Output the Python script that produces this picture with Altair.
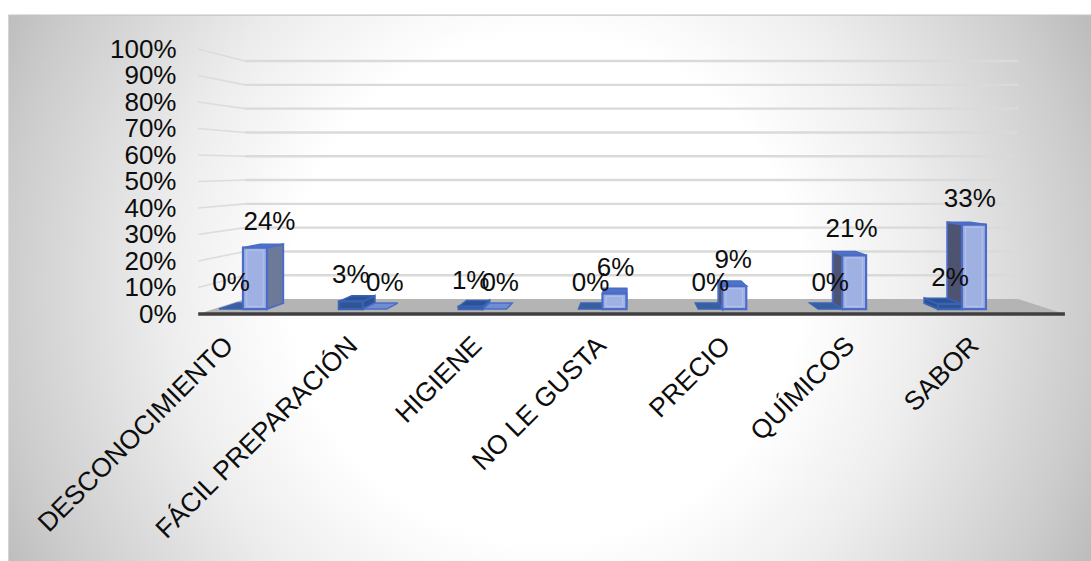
import altair as alt
import pandas as pd

categories = ["DESCONOCIMIENTO", "FÁCIL PREPARACIÓN", "HIGIENE", "NO LE GUSTA", "PRECIO", "QUÍMICOS", "SABOR"]
series_a = [0, 3, 1, 0, 0, 0, 2]
series_b = [24, 0, 0, 6, 9, 21, 33]
y_ticks = list(range(0, 101, 10))

# Scale domains: x in category slots, y in percent on the front plane of the floor.
X_DOMAIN = [-1.84, 6.94]
Y_DOMAIN = [-93.2, 118.5]
CENTER = 3.24          # vanishing column of the perspective
SHRINK_X = 0.108       # narrowing of the x extent from front to back plane
SHRINK_Y = 0.102       # narrowing of the y extent from front to back plane
FLOOR_RISE = 5.66      # rise of the floor line at the back plane, percent units
BAR_W = 0.2            # bar width in category slots
D_FRONT, D_BACK = 0.33, 0.73   # bar depth range (0 = front plane, 1 = back wall)
FLOOR_L, FLOOR_R = -0.245, 6.73
PANEL_L, PANEL_T = -1.773, 112.8
BEVEL_X, BEVEL_Y = 0.03, 1.0   # inset of the lighter frame inside a bar's front face


def proj(c, v, d):
    return CENTER + (c - CENTER) * (1 - SHRINK_X * d), v * (1 - SHRINK_Y * d) + FLOOR_RISE * d


fronts, bevels, sides, tops, labels = [], [], [], [], []
for i, name in enumerate(categories):
    for key, val, c0, c1 in (("A", series_a[i], i - BAR_W, i), ("B", series_b[i], i, i + BAR_W)):
        bar = f"{key}{i}"
        fl, fb = proj(c0, 0, D_FRONT)
        fr, ft = proj(c1, val, D_FRONT)
        bl, bt = proj(c0, val, D_BACK)
        br, bb = proj(c1, 0, D_BACK)
        fill = "#2f5597" if key == "A" else "#9fb1e2"
        if key == "A":
            top_fill = "#2c5296" if val else "#36609f"
        else:
            top_fill = "#4f73c6" if val else "#6f8dd0"
        stroke = "#3a63b4" if key == "A" else "#4a6cc8"
        if val > 0:
            fronts.append(dict(x=fl, x2=fr, y=fb, y2=ft, fill=fill, stroke=stroke))
            if key == "B":
                bevels.append(dict(x=fl + BEVEL_X, x2=fr - BEVEL_X, y=fb + BEVEL_Y, y2=ft - BEVEL_Y))
            # the visible flank faces the vanishing column
            if c1 < CENTER:
                flank = [(fr, ft, fb), (br, bt, bb)]
                shade = "#6d7999"
            else:
                flank = [(fl, ft, fb), (bl, bt, bb)]
                shade = "#4d5371"
            if key == "A":
                shade = "#2c5296"
            for px, t, b in flank:
                sides.append(dict(bar=bar, x=px, y=t, y2=b, fill=shade, stroke=stroke))
        tops.append(dict(bar=bar, y=ft, x=fl, x2=fr, fill=top_fill, stroke=stroke))
        tops.append(dict(bar=bar, y=bt, x=bl, x2=br, fill=top_fill, stroke=stroke))
        # labels of the second series lean towards the far end of their bar
        lean = 0.036 if i < CENTER else 0.012
        shift = lean * (CENTER - i) if key == "B" else 0
        labels.append(dict(x=(fl + fr) / 2 + shift, y=ft, text=f"{val}%"))

# Grid lines: along the side wall, then across the back wall.
wall, back = [], []
for t in y_ticks[1:]:
    for c, d in ((FLOOR_L, 0), (FLOOR_L, 1)):
        px, py = proj(c, t, d)
        wall.append(dict(tick=t, x=px, y=py))
    for c, d in ((FLOOR_L, 1), (FLOOR_R, 1)):
        px, py = proj(c, t, d)
        back.append(dict(tick=t, x=px, y=py))

floor = []
for c, d in ((FLOOR_L, 0), (FLOOR_L, 1), (FLOOR_R, 1), (FLOOR_R, 0)):
    px, py = proj(c, 0, d)
    floor.append(dict(x=px, y=py, y2=0))
floor_line = [dict(x=floor[0]["x"], y=0), dict(x=floor[3]["x"], y=0)]

# Same axis definitions on every layer so that the layers share one pair of axes.
names_expr = "[" + ",".join(f"'{n}'" for n in categories) + "][datum.value]"
x_axis = alt.Axis(
    orient="bottom", offset=-220, values=list(range(len(categories))), labelExpr=names_expr,
    labelAngle=-45, labelAlign="right", labelBaseline="middle", labelFont="Liberation Sans", labelFontSize=26.5,
    labelColor="#0d0d0d", labelOverlap=False, labelFlush=False, labelBound=False, labelPadding=0, labelLimit=400,
    domain=False, ticks=False, grid=False, title=None, zindex=1)
y_axis = alt.Axis(
    orient="left", offset=-176, values=y_ticks, labelExpr="datum.value + '%'",
    labelFont="Liberation Sans", labelFontSize=26, labelColor="#0d0d0d", labelOverlap=False,
    labelFlush=False, labelBound=False, labelPadding=0,
    domain=False, ticks=False, grid=False, title=None, zindex=1)

xs = alt.Scale(domain=X_DOMAIN, nice=False, zero=False)
ys = alt.Scale(domain=Y_DOMAIN, nice=False, zero=False)
X = alt.X("x:Q", scale=xs, axis=x_axis)
Y = alt.Y("y:Q", scale=ys, axis=y_axis)

# A square box around the panel keeps the radial gradient circular; the plot area clips it.
x_per_y = (X_DOMAIN[1] - X_DOMAIN[0]) / 1091 / ((Y_DOMAIN[1] - Y_DOMAIN[0]) / 561)
mid_x, mid_y, half_y = 2.55, 9.5, 228.0
panel = alt.Chart(pd.DataFrame([dict(
    x=mid_x - half_y * x_per_y, x2=mid_x + half_y * x_per_y, y=mid_y - half_y, y2=mid_y + half_y
)])).mark_rect(
    clip=True,
    fill=alt.RadialGradient(
        gradient="radial", x1=0.5, y1=0.5, x2=0.5, y2=0.5, r1=0, r2=0.5,
        stops=[alt.GradientStop(offset=0, color="#ffffff"),
               alt.GradientStop(offset=0.42, color="#ffffff"),
               alt.GradientStop(offset=0.62, color="#eeeeee"),
               alt.GradientStop(offset=0.9, color="#cccccc"),
               alt.GradientStop(offset=1, color="#bdbdbd")]),
).encode(X, alt.X2("x2"), Y, alt.Y2("y2"))

# White margins left of and above the panel, and the thin line along its top edge.
margins = alt.Chart(pd.DataFrame([
    dict(x=X_DOMAIN[0], x2=PANEL_L, y=Y_DOMAIN[0], y2=Y_DOMAIN[1]),
    dict(x=X_DOMAIN[0], x2=X_DOMAIN[1], y=PANEL_T, y2=Y_DOMAIN[1]),
])).mark_rect(fill="#ffffff").encode(X, alt.X2("x2"), Y, alt.Y2("y2"))
edge = alt.Chart(pd.DataFrame([
    dict(x=PANEL_L, y=PANEL_T), dict(x=X_DOMAIN[1], y=PANEL_T),
])).mark_line(stroke="#c4c4c4", strokeWidth=1.2).encode(X, Y)

wall_layer = alt.Chart(pd.DataFrame(wall)).mark_line(stroke="#dcdcdc", strokeWidth=1.6).encode(
    X, Y, alt.Detail("tick:N"), alt.Order("x:Q"))
back_layer = alt.Chart(pd.DataFrame(back)).mark_line(stroke="#dadada", strokeWidth=2.4).encode(
    X, Y, alt.Detail("tick:N"), alt.Order("x:Q"))

floor_layer = alt.Chart(pd.DataFrame(floor)).mark_area(fill="#b4b4b4").encode(X, Y, alt.Y2("y2"))
line_layer = alt.Chart(pd.DataFrame(floor_line)).mark_line(stroke="#3f3f3f", strokeWidth=3.6).encode(X, Y)

side_layer = alt.Chart(pd.DataFrame(sides)).mark_area(strokeWidth=1.8).encode(
    X, Y, alt.Y2("y2"), alt.Detail("bar:N"),
    alt.Fill("fill:N", scale=None), alt.Stroke("stroke:N", scale=None))
top_layer = alt.Chart(pd.DataFrame(tops)).mark_area(orient="horizontal", strokeWidth=1.5).encode(
    Y, X, alt.X2("x2"),
    alt.Detail("bar:N"), alt.Fill("fill:N", scale=None), alt.Stroke("stroke:N", scale=None))
front_layer = alt.Chart(pd.DataFrame(fronts)).mark_rect(strokeWidth=2.2).encode(
    X, alt.X2("x2"), Y, alt.Y2("y2"),
    alt.Fill("fill:N", scale=None), alt.Stroke("stroke:N", scale=None))
bevel_layer = alt.Chart(pd.DataFrame(bevels)).mark_rect(
    fillOpacity=0, stroke="#b4c2ea", strokeWidth=1
).encode(X, alt.X2("x2"), Y, alt.Y2("y2"))

label_layer = alt.Chart(pd.DataFrame(labels)).mark_text(
    font="Liberation Sans", fontSize=26, color="#0d0d0d", dy=-26, baseline="middle", align="center"
).encode(X, Y, alt.Text("text:N"))

chart = alt.layer(
    panel, margins, edge, wall_layer, back_layer, floor_layer, line_layer,
    side_layer, top_layer, front_layer, bevel_layer, label_layer
).properties(
    width=1091, height=561, padding=0, autosize=alt.AutoSizeParams(type="none"), background="white"
).configure_view(stroke=None)

chart.save("out.html", embed_options={"renderer": "svg", "actions": False})
